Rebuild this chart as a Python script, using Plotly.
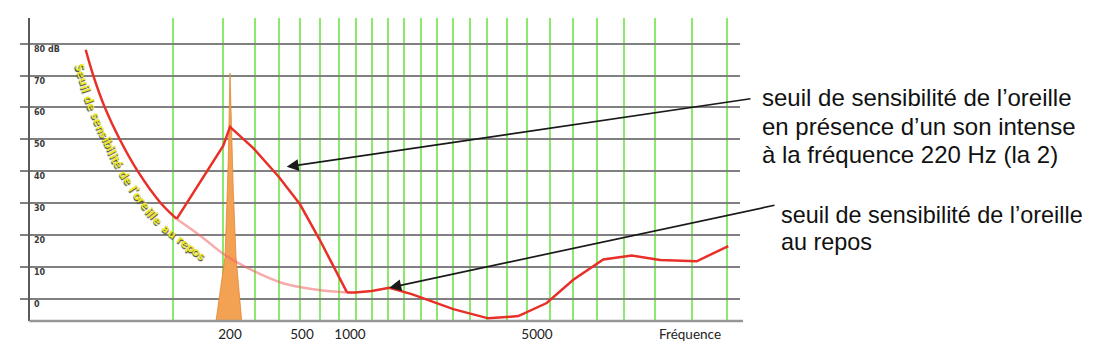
import numpy as np
import plotly.graph_objects as go

# ---------------- data (x = position along the drawn frequency axis, y = level in dB)
quiet_pos = [85.7, 93.3, 104.8, 119.7, 137.7, 160.7, 176.7, 200, 223, 245, 283, 317, 347]
quiet_db = [78.1, 70, 60, 50, 40, 30, 25.0, 19.8, 14.1, 10.0, 4.8, 2.8, 1.95]
quiet_hi_pos = [347, 355, 371.7, 389.3, 411.7, 436.7, 453.3, 488.3, 518.3, 546.7,
                573.3, 603.3, 631.7, 660, 696.7, 728.3]
quiet_hi_db = [1.95, 1.9, 2.4, 3.4, 1.4, -1.5, -3.3, -6.2, -5.5, -1.4,
               5.9, 12.3, 13.5, 12.1, 11.7, 16.5]
masked_pos = [176.7, 223.3, 230, 253.3, 278.3, 300, 320, 347]
masked_db = [25.0, 48.0, 53.9, 47.2, 38.4, 29.6, 18.3, 1.95]
tone_pos = [216, 220.7, 225, 227.3, 228.3, 230, 232, 233.3, 236, 239.3, 241.7]
tone_db = [-7.03, 2.8, 13.1, 33.9, 44.1, 70.7, 44.1, 33.9, 13.1, 2.8, -7.03]
band_edges = [172.7, 222.7, 255, 279.3, 300, 320, 339.3, 356, 371.7, 388.3, 404, 420.7,
              436.7, 452.7, 470, 487.3, 506.7, 527.3, 550, 573.3, 596.7, 624, 655,
              691.7, 726.7]
freq_tick_pos = [230, 302, 350, 537, 690]
freq_tick_text = ["200", "500", "1000", "5000", "Fréquence"]
level_ticks = [0, 10, 20, 30, 40, 50, 60, 70, 80]
level_text = ["0", "10", "20", "30", "40", "50", "60", "70", "80 dB"]
curve_label = "Seuil de sensibilité de l'oreille au repos"
note1 = ["seuil de sensibilité de l’oreille", "en présence d’un son intense",
         "à la fréquence 220 Hz (la 2)"]
note2 = ["seuil de sensibilité de l’oreille", "au repos"]

# ---------------- geometry
W, H = 1110, 354
ML, MR, MT, MB = 20, 370, 18, 29
X_RANGE = [20, 740]
Y_RANGE = [-7.03, 88.05]
PW = W - ML - MR
PH = H - MT - MB


def to_px(x, db):
    px = ML + (np.asarray(x) - X_RANGE[0]) / (X_RANGE[1] - X_RANGE[0]) * PW
    py = MT + (Y_RANGE[1] - np.asarray(db)) / (Y_RANGE[1] - Y_RANGE[0]) * PH
    return px, py


def from_px(px, py):
    x = X_RANGE[0] + (px - ML) / PW * (X_RANGE[1] - X_RANGE[0])
    db = Y_RANGE[1] - (py - MT) / PH * (Y_RANGE[1] - Y_RANGE[0])
    return x, db


def paper(px, py):
    return (px - ML) / PW, (H - MB - py) / PH


RED = "rgb(232,48,40)"
PINK = "rgba(240,100,100,0.55)"

fig = go.Figure()

# tone spectrum
fig.add_trace(go.Scatter(x=tone_pos, y=tone_db, mode="lines", fill="toself",
                         fillcolor="rgb(242,162,82)",
                         line=dict(color="rgb(228,134,52)", width=0.8),
                         hoverinfo="skip", showlegend=False))
# quiet threshold (faint part, masked region)
fig.add_trace(go.Scatter(x=quiet_pos[6:], y=quiet_db[6:], mode="lines",
                         line=dict(color=PINK, width=2.5, shape="spline"),
                         showlegend=False))
# quiet threshold solid (left part)
fig.add_trace(go.Scatter(x=quiet_pos[:7], y=quiet_db[:7], mode="lines",
                         line=dict(color=RED, width=2.5, shape="spline"),
                         showlegend=False))
# masked threshold
fig.add_trace(go.Scatter(x=masked_pos, y=masked_db, mode="lines",
                         line=dict(color=RED, width=2.5), showlegend=False))
# quiet threshold solid (right part)
fig.add_trace(go.Scatter(x=quiet_hi_pos, y=quiet_hi_db, mode="lines",
                         line=dict(color=RED, width=2.5), showlegend=False))

annotations = []

# level labels
for v, t in zip(level_ticks, level_text):
    annotations.append(dict(x=31.5, y=v, xref="x", yref="y", text=t, showarrow=False,
                            xanchor="left", yanchor="middle", yshift=-5.5,
                            font=dict(family="DejaVu Sans", size=8, color="#3a3a3a",
                                      weight=700)))


# curved label along the quiet threshold
def catmull(pts, n=40):
    pts = np.asarray(pts, dtype=float)
    P = np.vstack([2 * pts[0] - pts[1], pts, 2 * pts[-1] - pts[-2]])
    out = []
    for i in range(1, len(P) - 2):
        p0, p1, p2, p3 = P[i - 1], P[i], P[i + 1], P[i + 2]
        t = np.linspace(0, 1, n, endpoint=False)[:, None]
        out.append(0.5 * ((2 * p1) + (-p0 + p2) * t + (2 * p0 - 5 * p1 + 4 * p2 - p3) * t ** 2
                          + (-p0 + 3 * p1 - 3 * p2 + p3) * t ** 3))
    out.append(P[-2][None, :])
    return np.vstack(out)


qpx, qpy = to_px(quiet_pos[:10], quiet_db[:10])
path = catmull(np.column_stack([qpx, qpy]))
seg = np.hypot(np.diff(path[:, 0]), np.diff(path[:, 1]))
arc = np.concatenate([[0], np.cumsum(seg)])
s0 = arc[np.argmax(path[:, 1] >= 62)]
s1 = arc[np.argmax(path[:, 0] >= 213)]
cw = {' ': .26, 'S': .52, 'e': .53, 'u': .56, 'i': .26, 'l': .26, 'd': .56, 's': .43,
      'n': .56, 'b': .56, 't': .36, 'é': .53, "'": .22, 'o': .56, 'r': .38, 'a': .51,
      'p': .56}
FS = 12.5
widths = np.array([cw.get(c, .5) for c in curve_label]) * FS
scale = (s1 - s0) / widths.sum()
cum = np.concatenate([[0], np.cumsum(widths)])[:-1]
for c, w0, w in zip(curve_label, cum, widths):
    if c == ' ':
        continue
    s = s0 + scale * (w0 + w / 2)
    px = np.interp(s, arc, path[:, 0])
    py = np.interp(s, arc, path[:, 1])
    dx = np.interp(s + 3, arc, path[:, 0]) - np.interp(s - 3, arc, path[:, 0])
    dy = np.interp(s + 3, arc, path[:, 1]) - np.interp(s - 3, arc, path[:, 1])
    L = np.hypot(dx, dy)
    dx, dy = dx / L, dy / L
    frac = (s - s0) / (s1 - s0)
    off = 10.5 + 4.5 * frac
    tx, ty = px - dy * off, py + dx * off
    xx, yy = from_px(tx, ty)
    ang = float(np.degrees(np.arctan2(dy, dx)))
    annotations.append(dict(x=float(xx), y=float(yy), xref="x", yref="y", text=c,
                            showarrow=False, textangle=ang, xanchor="center",
                            yanchor="middle",
                            font=dict(family="Lato", size=FS, color="rgb(236,232,36)",
                                      weight=900,
                                      shadow="1px 1px 1px rgb(60,60,40)")))

# right-hand notes
for i, t in enumerate(note1):
    xp, yp = paper(760, 99 + 28.5 * i)
    annotations.append(dict(x=xp, y=yp, xref="paper", yref="paper", text=t, showarrow=False,
                            xanchor="left", yanchor="middle",
                            font=dict(family="Liberation Sans", size=24, color="#111")))
for i, t in enumerate(note2):
    xp, yp = paper(778.5, 217.5 + 27.5 * i)
    annotations.append(dict(x=xp, y=yp, xref="paper", yref="paper", text=t, showarrow=False,
                            xanchor="left", yanchor="middle",
                            font=dict(family="Liberation Sans", size=23.4, color="#111")))

# arrows
tip1 = (286.7, 168.8)
tail1 = (752, 100.5)
x1, y1 = from_px(*tip1)
annotations.append(dict(x=x1, y=y1, xref="x", yref="y", text="", showarrow=True,
                        ax=tail1[0] - tip1[0], ay=tail1[1] - tip1[1],
                        arrowhead=2, arrowsize=1.4, arrowwidth=1.7, arrowcolor="#1a1a1a",
                        standoff=0))
tpx, tpy = to_px(quiet_hi_pos[3], quiet_hi_db[3])
tail2 = (776, 208.5)
annotations.append(dict(x=quiet_hi_pos[3], y=quiet_hi_db[3], xref="x", yref="y", text="",
                        showarrow=True, ax=tail2[0] - float(tpx), ay=tail2[1] - float(tpy),
                        arrowhead=2, arrowsize=1.4, arrowwidth=1.7, arrowcolor="#1a1a1a",
                        standoff=0))

shapes = [
    dict(type="line", xref="paper", yref="paper", x0=(29.3 - ML) / PW, x1=(743 - ML) / PW,
         y0=0, y1=0, line=dict(color="rgb(150,150,150)", width=2.5)),
]

fig.update_layout(
    width=W, height=H, margin=dict(l=ML, r=MR, t=MT, b=MB, pad=0),
    paper_bgcolor="white", plot_bgcolor="white", showlegend=False,
    annotations=annotations, shapes=shapes,
    xaxis=dict(range=X_RANGE, tickmode="array", tickvals=freq_tick_pos,
               ticktext=freq_tick_text, showgrid=False, zeroline=False, showline=False,
               ticks="", ticklabelstandoff=3,
               tickfont=dict(family="Lato", size=13.5, color="#222"),
               minor=dict(tickmode="array", tickvals=band_edges, showgrid=True,
                          gridcolor="rgb(140,232,110)", gridwidth=1.5, ticks=""),
               fixedrange=True),
    yaxis=dict(range=Y_RANGE, tickmode="array", tickvals=level_ticks, showticklabels=False,
               showgrid=True, gridcolor="rgb(128,128,128)", gridwidth=2, zeroline=False,
               showline=True, linecolor="rgb(90,90,90)", linewidth=1.5, ticks="",
               anchor="free", position=(29.3 - ML) / PW, fixedrange=True),
)

fig.write_html("out.html")
